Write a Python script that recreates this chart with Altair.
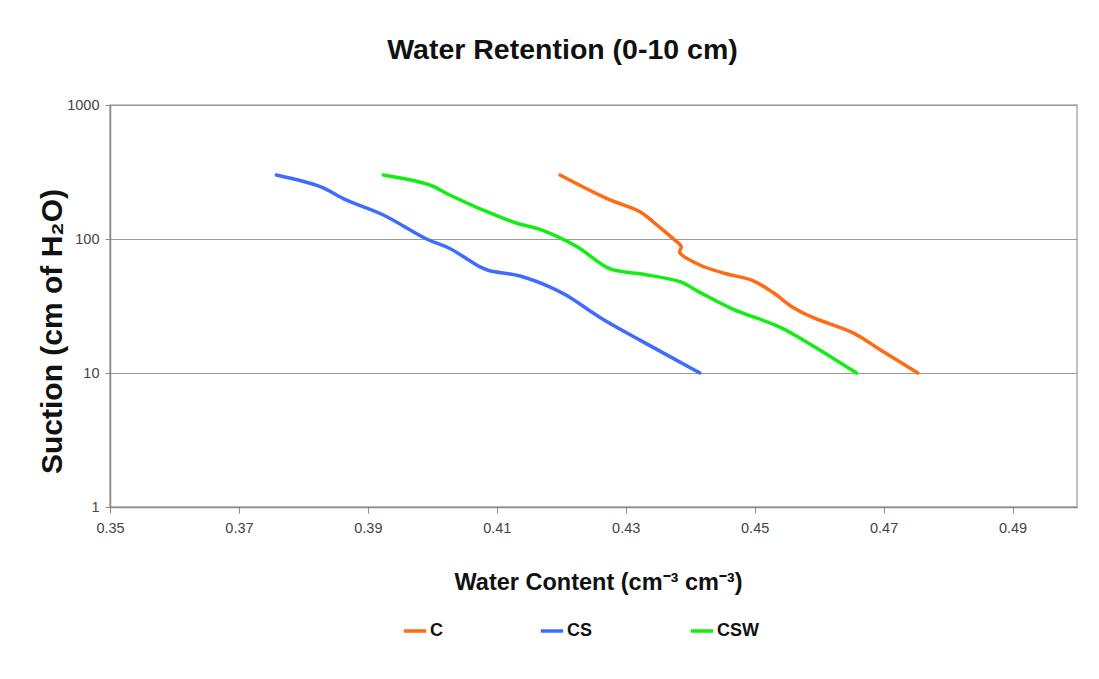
import altair as alt
import pandas as pd

# Water content (cm^3/cm^3) and suction (cm of H2O)
c_theta = [0.4198, 0.4270, 0.4322, 0.4342, 0.4373, 0.4386, 0.4384, 0.4415, 0.4456, 0.4497, 0.4528, 0.4559, 0.4590, 0.4652, 0.4694, 0.4753]
c_suction = [300, 201, 160, 135, 101, 88, 79, 64, 55, 49, 40, 31, 26, 20, 15, 10]

cs_theta = [0.3758, 0.3826, 0.3867, 0.3924, 0.3991, 0.4027, 0.4074, 0.4089, 0.4136, 0.4182, 0.4208, 0.4260, 0.4322, 0.4415]
cs_suction = [300, 246, 195, 151, 100, 85, 62, 58, 53, 44, 38, 26, 17.6, 10]

csw_theta = [0.3924, 0.3996, 0.4027, 0.4079, 0.4131, 0.4167, 0.4224, 0.4275, 0.4322, 0.4384, 0.4415, 0.4466, 0.4539, 0.4590, 0.4658]
csw_suction = [300, 253, 213, 164, 131, 118, 88, 60, 55, 48, 40, 30, 22, 16, 10]

series_names = ["C", "CS", "CSW"]
series_colors = ["#FF6A13", "#3F6BFF", "#11EE11"]

x_ticks = [0.35, 0.37, 0.39, 0.41, 0.43, 0.45, 0.47, 0.49]
y_ticks = [1, 10, 100, 1000]

rows = []
for name, xs, ys in zip(series_names, [c_theta, cs_theta, csw_theta], [c_suction, cs_suction, csw_suction]):
    for i, (xv, yv) in enumerate(zip(xs, ys)):
        rows.append({"series": name, "i": i, "theta": xv, "suction": yv})
df = pd.DataFrame(rows)

sans = "Liberation Sans, Arial, sans-serif"

chart = alt.Chart(df).mark_line(
    interpolate="catmull-rom", strokeWidth=3.5, strokeCap="round"
).encode(
    x=alt.X("theta:Q",
            scale=alt.Scale(domain=[0.35, 0.50], nice=False, zero=False),
            axis=alt.Axis(values=x_ticks, format=".2f", grid=False,
                          title="Water Content (cm\u207B\u00B3 cm\u207B\u00B3)",
                          titleFont=sans, titleFontSize=23.5, titleFontWeight="bold",
                          titleColor="#111", titleX=488, titleY=82, titleAlign="center",
                          titleBaseline="alphabetic",
                          labelFont=sans, labelFontSize=14.5, labelColor="#444",
                          labelFlush=False, labelPadding=8, tickSize=6)),
    y=alt.Y("suction:Q",
            scale=alt.Scale(type="log", domain=[1, 1000], nice=False),
            axis=alt.Axis(values=y_ticks, format="d", grid=True,
                          title="Suction (cm of H\u2082O)",
                          titleFont=sans, titleFontSize=30, titleFontWeight="bold",
                          titleColor="#111", titleX=-58, titleY=226, titleAlign="center",
                          titleBaseline="middle", titleAngle=-90,
                          labelFont=sans, labelFontSize=14.5, labelColor="#444",
                          labelFlush=False, labelPadding=6, tickSize=5)),
    color=alt.Color("series:N",
                    scale=alt.Scale(domain=series_names, range=series_colors),
                    legend=alt.Legend(title=None, orient="none", legendX=292, legendY=513,
                                      direction="horizontal", columns=3, columnPadding=90,
                                      symbolType="stroke", symbolStrokeWidth=3.5, symbolSize=500,
                                      labelFont=sans, labelFontSize=18, labelFontWeight="bold",
                                      labelColor="#111", labelOffset=2)),
    order=alt.Order("i:Q"),
).properties(
    width=967, height=402,
    title=alt.TitleParams("Water Retention (0-10 cm)", font=sans, fontSize=28.5,
                          fontWeight="bold", color="#111", anchor="middle", dx=-31, offset=33),
    autosize=alt.AutoSizeParams(type="none"),
    padding={"left": 102, "top": 97, "right": 14, "bottom": 164},
    background="white",
).configure_axis(
    domainColor="#8a8a8a", tickColor="#8a8a8a", gridColor="#9a9a9a", gridWidth=1.2,
    domainWidth=1.5,
).configure_view(
    stroke="#b0b0b0", strokeWidth=1.5,
)

chart.save("out.html", embed_options={"renderer": "svg", "actions": False})
